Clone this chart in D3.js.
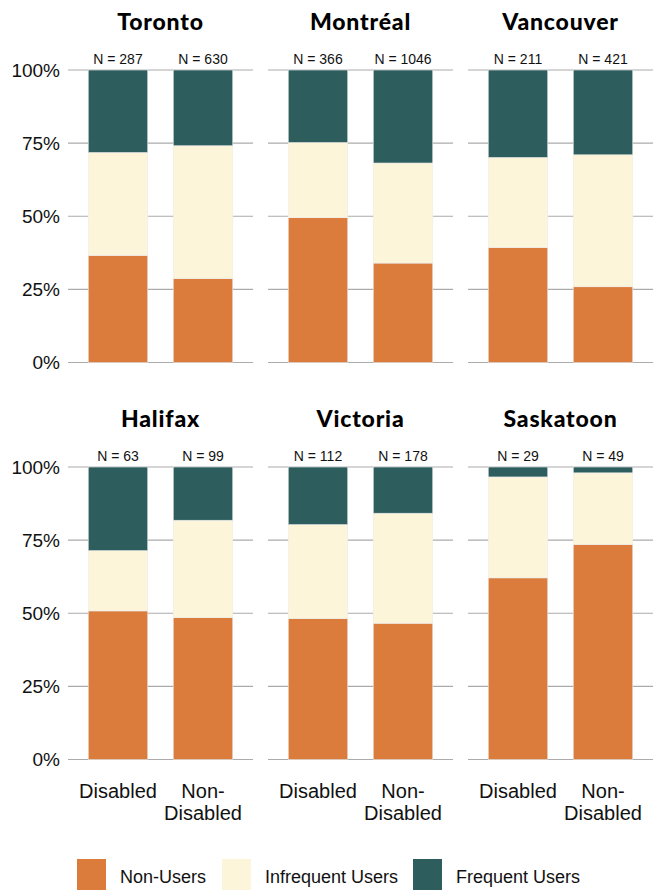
<!DOCTYPE html>
<html>
<head>
<meta charset="utf-8">
<script src="https://cdn.jsdelivr.net/npm/d3@7"></script>
<style>
  body { margin: 0; background: #fff; }
  svg { display: block; }
</style>
</head>
<body>
<svg id="chart" width="659" height="890"></svg>
<script>
// data (percent of respondents)
const cities = ["Toronto", "Montréal", "Vancouver", "Halifax", "Victoria", "Saskatoon"];
const groups = ["Disabled", "Non-Disabled"];
const sampleSizes = [[287, 630], [366, 1046], [211, 421], [63, 99], [112, 178], [29, 49]];
const nonUsers = [[36.6, 28.7], [49.5, 34.0], [39.3, 25.9], [50.8, 48.5], [48.2, 46.6], [62.1, 73.5]];
const infrequentUsers = [[35.2, 45.4], [25.7, 34.2], [30.8, 45.1], [20.6, 33.3], [32.1, 37.6], [34.5, 24.5]];
const frequentUsers = [[28.2, 25.9], [24.8, 31.8], [29.9, 29.0], [28.6, 18.2], [19.7, 15.8], [3.4, 2.0]];
const seriesNames = ["Non-Users", "Infrequent Users", "Frequent Users"];
const yTicks = [0, 25, 50, 75, 100];

const colors = ["#db7c3c", "#fdf5da", "#2e5d5e"];
const sansFont = "'Liberation Sans', Arial, sans-serif";

const svg = d3.select("#chart");

const panelW = 185, panelH = 292.5;
const colStep = 200, rowStep = 397;
const left0 = 68, top0 = 70;

const x = d3.scaleBand().domain(groups).range([0, panelW]).paddingInner(0.3).paddingOuter(0.238);
const y = d3.scaleLinear().domain([0, 100]).range([panelH, 0]);
const stack = d3.stack().keys([0, 1, 2]);

cities.forEach((city, i) => {
    const col = i % 3, row = Math.floor(i / 3);
    const g = svg.append("g")
        .attr("transform", "translate(" + (left0 + col * colStep) + "," + (top0 + row * rowStep) + ")");

    // gridlines
    g.selectAll(".grid")
        .data(yTicks)
        .enter().append("line")
        .attr("x1", 0).attr("x2", panelW)
        .attr("y1", d => y(d)).attr("y2", d => y(d))
        .attr("stroke", "#ababab")
        .attr("stroke-width", 1.2);

    // stacked bars
    const rows = groups.map((grp, j) => [nonUsers[i][j], infrequentUsers[i][j], frequentUsers[i][j]]);
    const layers = stack(rows);
    layers.forEach((layer, k) => {
        g.selectAll(".bar" + k)
            .data(layer)
            .enter().append("rect")
            .attr("x", (d, j) => x(groups[j]))
            .attr("width", x.bandwidth())
            .attr("y", d => y(d[1]))
            .attr("height", d => y(d[0]) - y(d[1]))
            .attr("fill", colors[k])
            .attr("stroke", "#ececec")
            .attr("stroke-width", 0.6);
    });

    // N labels
    g.selectAll(".nlab")
        .data(groups)
        .enter().append("text")
        .attr("x", d => x(d) + x.bandwidth() / 2)
        .attr("y", -6)
        .attr("text-anchor", "middle")
        .attr("font-family", sansFont)
        .attr("font-size", 14)
        .attr("fill", "#111")
        .text((d, j) => "N = " + sampleSizes[i][j]);

    // city title
    g.append("text")
        .attr("x", panelW / 2)
        .attr("y", -40)
        .attr("text-anchor", "middle")
        .attr("font-family", "Lato, 'DejaVu Sans', sans-serif")
        .attr("font-weight", 900)
        .attr("font-size", 23)
        .attr("letter-spacing", 0.8)
        .attr("fill", "#000")
        .text(city);

    // y axis on first column
    if (col === 0) {
        const axis = d3.axisLeft(y).tickValues(yTicks).tickSize(0).tickPadding(8)
            .tickFormat(d => d + "%");
        const ag = g.append("g").call(axis);
        ag.select(".domain").remove();
        ag.selectAll("text")
            .attr("font-family", sansFont)
            .attr("font-size", 19)
            .attr("fill", "#111");
    }

    // x labels on bottom row
    if (row === 1) {
        const xl = g.selectAll(".xlab")
            .data(groups)
            .enter().append("text")
            .attr("text-anchor", "middle")
            .attr("font-family", sansFont)
            .attr("font-size", 20)
            .attr("fill", "#111");
        xl.each(function(d) {
            const parts = d === "Non-Disabled" ? ["Non-", "Disabled"] : [d];
            const t = d3.select(this);
            parts.forEach((p, pi) => {
                t.append("tspan")
                    .attr("x", x(d) + x.bandwidth() / 2)
                    .attr("y", panelH + 38 + pi * 22)
                    .text(p);
            });
        });
    }
});

// legend
const legendX = [77, 222, 413];
const legend = svg.selectAll(".legend")
    .data(seriesNames)
    .enter().append("g")
    .attr("transform", (d, k) => "translate(" + legendX[k] + ",859)");
legend.append("rect")
    .attr("width", 29).attr("height", 31)
    .attr("fill", (d, k) => colors[k]);
legend.append("text")
    .attr("x", 43)
    .attr("y", 24)
    .attr("font-family", sansFont)
    .attr("font-size", 18)
    .attr("fill", "#111")
    .text(d => d);
</script>
</body>
</html>
